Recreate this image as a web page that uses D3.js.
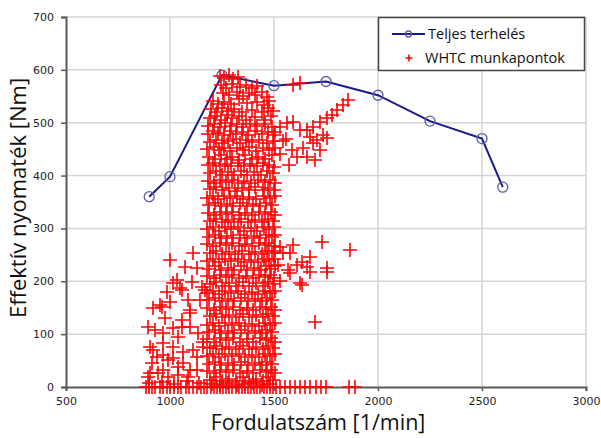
<!DOCTYPE html>
<html>
<head>
<meta charset="utf-8">
<script src="https://cdn.jsdelivr.net/npm/d3@7"></script>
<style>
  body { margin: 0; background: #fff; }
  #chart { width: 601px; height: 438px; }
  .tick text { font-family: "DejaVu Sans", Verdana, sans-serif; font-size: 11px; fill: #222; }
</style>
</head>
<body>
<div id="chart"></div>
<script>
// axis ticks
const rpmTicks = [500, 1000, 1500, 2000, 2500, 3000];
const torqueTicks = [0, 100, 200, 300, 400, 500, 600, 700];

// full load curve (Teljes terhelés)
const fullLoadRpm = [900, 1000, 1250, 1500, 1750, 2000, 2250, 2500, 2600];
const fullLoadTorque = [360, 398, 590, 570, 578, 552, 503, 470, 378];

// WHTC operating points in groups
const whtcIdleRpm = [885, 900, 915, 930, 950, 965, 985, 1000, 1020, 1040, 1055, 1075, 1090, 1110, 1130,
  1150, 1165, 1180, 1195, 1210, 1225, 1240, 1255, 1270, 1285, 1300, 1315, 1330, 1345, 1360, 1375,
  1390, 1405, 1420, 1435, 1450, 1465, 1480, 1495, 1510, 1530, 1555, 1575, 1600, 1625, 1650, 1675,
  1700, 1725, 1750, 1860, 1890];

const whtcLowSpeed = [
  [1000, 240], [1110, 253], [1072, 227], [1130, 225], [1034, 202], [985, 180], [1048, 187], [918, 149],
  [961, 151], [1087, 165], [1096, 146], [1154, 189], [894, 114], [928, 108], [966, 102], [1014, 112],
  [1058, 114], [1096, 114], [904, 76], [966, 83], [1014, 76], [1063, 66], [990, 51], [937, 57],
  [904, 26], [966, 32], [1038, 38], [1096, 32], [1130, 57], [1159, 76], [1135, 102], [952, 155],
  [1000, 161], [976, 131], [1058, 127], [1096, 140], [1058, 183], [1014, 197], [1106, 199], [1038, 95],
  [918, 70], [966, 61], [913, 45], [1014, 55], [1063, 45], [1111, 70], [894, 19], [942, 26],
  [990, 19], [1038, 23], [1087, 19], [1130, 32], [1159, 85], [1145, 165], [1168, 183], [900, 8],
  [960, 10], [1020, 6], [1080, 12], [1140, 8]
];

const whtcCore = [
  [1240, 588], [1262, 584], [1285, 590], [1305, 582], [1325, 586],
  [1245, 572], [1270, 566], [1300, 574], [1335, 568], [1365, 572], [1395, 566], [1420, 570],
  [1255, 556], [1285, 552], [1320, 558], [1350, 550], [1380, 556], [1410, 552], [1440, 558], [1465, 548],
  [1205, 542], [1230, 536], [1260, 540], [1295, 536], [1330, 544], [1370, 538], [1420, 540], [1450, 534], [1478, 542],
  [1195, 526], [1225, 520], [1250, 528], [1280, 522], [1310, 526], [1345, 520], [1395, 524], [1440, 520], [1470, 528], [1495, 522],
  [1190, 508], [1215, 512], [1245, 506], [1275, 514], [1300, 508], [1330, 512], [1365, 506], [1410, 510], [1450, 506], [1485, 512],
  [1185, 494], [1210, 498], [1240, 492], [1265, 500], [1295, 494], [1320, 498], [1350, 492], [1385, 498], [1420, 494], [1455, 498], [1490, 492],
  [1183, 478], [1205, 484], [1230, 480], [1260, 476], [1290, 484], [1315, 478], [1345, 482], [1375, 476], [1410, 484], [1440, 478], [1470, 482], [1500, 476],
  [1190, 464], [1220, 468], [1250, 462], [1280, 466], [1305, 470], [1335, 462], [1365, 468], [1395, 464], [1430, 468], [1465, 462], [1495, 466],
  [1180, 450], [1210, 454], [1235, 448], [1262, 452], [1290, 446], [1320, 452], [1350, 448], [1380, 454], [1415, 446], [1445, 452], [1478, 448], [1505, 452],
  [1188, 436], [1215, 432], [1245, 438], [1272, 432], [1300, 436], [1330, 430], [1360, 438], [1392, 432], [1425, 436], [1458, 432], [1490, 438],
  [1182, 420], [1208, 424], [1238, 418], [1265, 422], [1295, 418], [1325, 424], [1355, 418], [1385, 422], [1418, 418], [1448, 424], [1475, 420], [1500, 416],
  [1190, 404], [1220, 408], [1250, 402], [1280, 406], [1310, 402], [1340, 408], [1370, 402], [1405, 406], [1438, 402], [1468, 408], [1495, 404],
  [1185, 390], [1212, 386], [1240, 392], [1268, 388], [1298, 392], [1328, 386], [1358, 390], [1390, 386], [1425, 392], [1455, 388], [1482, 392], [1503, 386],
  [1192, 374], [1222, 378], [1252, 372], [1282, 376], [1312, 370], [1345, 376], [1378, 372], [1410, 378], [1445, 372], [1472, 376], [1498, 372],
  [1180, 358], [1205, 362], [1232, 356], [1260, 362], [1290, 358], [1320, 362], [1350, 356], [1382, 360], [1415, 356], [1450, 362], [1480, 358], [1505, 362],
  [1188, 344], [1218, 348], [1246, 342], [1275, 346], [1305, 342], [1335, 348], [1368, 342], [1400, 346], [1435, 342], [1462, 348], [1490, 344],
  [1183, 330], [1210, 326], [1240, 332], [1270, 328], [1300, 332], [1330, 326], [1362, 330], [1395, 326], [1428, 332], [1458, 328], [1485, 332], [1504, 326],
  [1190, 314], [1220, 318], [1250, 312], [1280, 316], [1310, 312], [1342, 318], [1375, 312], [1410, 316], [1442, 312], [1470, 318], [1497, 314],
  [1178, 298], [1205, 302], [1235, 296], [1265, 302], [1295, 298], [1325, 302], [1355, 296], [1388, 300], [1420, 296], [1452, 302], [1478, 298], [1502, 302],
  [1186, 284], [1215, 288], [1245, 282], [1275, 286], [1305, 282], [1338, 288], [1370, 282], [1402, 286], [1435, 282], [1462, 288], [1488, 284], [1505, 288],
  [1180, 270], [1208, 266], [1238, 272], [1268, 268], [1298, 272], [1330, 266], [1362, 270], [1395, 266], [1428, 272], [1455, 268], [1478, 272], [1498, 266],
  [1190, 254], [1220, 258], [1250, 252], [1282, 256], [1312, 252], [1345, 258], [1378, 252], [1410, 256], [1442, 252], [1468, 258], [1490, 254], [1506, 258],
  [1178, 238], [1205, 242], [1235, 236], [1265, 242], [1295, 238], [1325, 242], [1358, 236], [1390, 240], [1422, 236], [1452, 242], [1475, 238], [1500, 242],
  [1186, 224], [1215, 228], [1245, 222], [1278, 226], [1308, 222], [1340, 228], [1372, 222], [1405, 226], [1438, 222], [1462, 228], [1485, 224], [1505, 228],
  [1180, 210], [1210, 206], [1240, 212], [1270, 208], [1300, 212], [1332, 206], [1365, 210], [1398, 206], [1430, 212], [1458, 208], [1482, 212], [1502, 206],
  [1190, 194], [1222, 198], [1252, 192], [1285, 196], [1318, 192], [1350, 198], [1382, 192], [1415, 196], [1448, 192], [1472, 198], [1495, 194],
  [1178, 178], [1205, 182], [1235, 176], [1265, 182], [1295, 178], [1328, 182], [1360, 176], [1392, 180], [1425, 176], [1455, 182], [1480, 178], [1505, 182],
  [1186, 164], [1215, 168], [1248, 162], [1278, 166], [1310, 162], [1342, 168], [1375, 162], [1408, 166], [1440, 162], [1465, 168], [1490, 164],
  [1180, 150], [1210, 146], [1240, 152], [1270, 148], [1302, 152], [1335, 146], [1368, 150], [1400, 146], [1432, 152], [1460, 148], [1485, 152], [1506, 146],
  [1190, 134], [1220, 138], [1252, 132], [1285, 136], [1318, 132], [1350, 138], [1382, 132], [1415, 136], [1448, 132], [1472, 138], [1497, 134],
  [1178, 118], [1205, 122], [1235, 116], [1265, 122], [1298, 118], [1330, 122], [1362, 116], [1395, 120], [1428, 116], [1458, 122], [1482, 118], [1504, 122],
  [1186, 104], [1215, 108], [1245, 102], [1278, 106], [1310, 102], [1342, 108], [1375, 102], [1408, 106], [1440, 102], [1465, 108], [1490, 104],
  [1180, 90], [1210, 86], [1240, 92], [1270, 88], [1302, 92], [1335, 86], [1368, 90], [1400, 86], [1432, 92], [1460, 88], [1485, 92], [1506, 86],
  [1190, 74], [1220, 78], [1252, 72], [1285, 76], [1318, 72], [1350, 78], [1382, 72], [1415, 76], [1448, 72], [1472, 78], [1497, 74],
  [1178, 58], [1205, 62], [1235, 56], [1265, 62], [1298, 58], [1330, 62], [1362, 56], [1395, 60], [1428, 56], [1458, 62], [1482, 58], [1504, 62],
  [1186, 44], [1215, 48], [1245, 42], [1278, 46], [1310, 42], [1342, 48], [1375, 42], [1408, 46], [1440, 42], [1465, 48], [1490, 44],
  [1180, 30], [1210, 26], [1240, 32], [1270, 28], [1302, 32], [1335, 26], [1368, 30], [1400, 26], [1432, 32], [1460, 28], [1485, 32], [1506, 26],
  [1190, 14], [1220, 18], [1252, 12], [1285, 16], [1318, 12], [1350, 18], [1382, 12], [1415, 16], [1448, 12], [1472, 18], [1497, 14],
  [1200, 6], [1240, 4], [1280, 8], [1320, 4], [1360, 6], [1400, 8], [1440, 4], [1480, 6]
];

const whtcBranch = [
  [1529, 492], [1562, 499], [1591, 501], [1625, 486], [1505, 482], [1659, 486], [1688, 492], [1721, 501],
  [1755, 509], [1779, 515], [1803, 524], [1832, 533], [1856, 543], [1755, 471], [1707, 467], [1673, 473],
  [1721, 448], [1659, 435], [1611, 435], [1736, 477], [1688, 462], [1640, 452], [1587, 448], [1697, 429],
  [1591, 571], [1625, 575], [1545, 465], [1570, 420], [1530, 440], [1560, 470]
];

const whtcMidRight = [
  [1591, 269], [1729, 275], [1865, 259], [1543, 253], [1673, 246], [1755, 225], [1635, 193], [1567, 221],
  [1697, 123], [1611, 231], [1659, 227], [1529, 265], [1577, 253], [1635, 236], [1625, 197], [1577, 216],
  [1673, 218], [1755, 218], [1520, 230], [1530, 200]
];

const margin = { top: 17, right: 15, bottom: 51, left: 66 };
const width = 601, height = 438;

var svg = d3.select('#chart').append('svg')
  .attr('width', width)
  .attr('height', height);

var x = d3.scaleLinear().domain([500, 3000]).range([margin.left, width - margin.right]);
var y = d3.scaleLinear().domain([0, 700]).range([height - margin.bottom, margin.top]);

// grid
svg.append('g').selectAll('line.h')
  .data(torqueTicks.slice(1))
  .enter().append('line')
  .attr('x1', x(500)).attr('x2', x(3000))
  .attr('y1', d => y(d)).attr('y2', d => y(d))
  .attr('stroke', '#d4d4d4').attr('stroke-width', 1.5);

svg.append('g').selectAll('line.v')
  .data(rpmTicks.slice(1))
  .enter().append('line')
  .attr('x1', d => x(d)).attr('x2', d => x(d))
  .attr('y1', y(0)).attr('y2', y(700))
  .attr('stroke', '#d4d4d4').attr('stroke-width', 1.5);

// axes
var xAxis = svg.append('g')
  .attr('transform', `translate(0,${y(0)})`)
  .call(d3.axisBottom(x).tickValues(rpmTicks).tickSize(4).tickPadding(6).tickFormat(d3.format('d')));
var yAxis = svg.append('g')
  .attr('transform', `translate(${x(500)},0)`)
  .call(d3.axisLeft(y).tickValues(torqueTicks).tickSize(5).tickPadding(7));
[xAxis, yAxis].forEach(function(a) {
  a.select('.domain').attr('stroke', '#5a5a5a').attr('stroke-width', 2);
  a.selectAll('.tick line').attr('stroke', '#5a5a5a').attr('stroke-width', 1.5);
});

// full load line
var fullLoad = fullLoadRpm.map((r, i) => [r, fullLoadTorque[i]]);
svg.append('path')
  .datum(fullLoad)
  .attr('fill', 'none')
  .attr('stroke', '#1a1a8a')
  .attr('stroke-width', 2)
  .attr('d', d3.line().x(d => x(d[0])).y(d => y(d[1])));

svg.append('g').selectAll('circle')
  .data(fullLoad)
  .enter().append('circle')
  .attr('cx', d => x(d[0]))
  .attr('cy', d => y(d[1]))
  .attr('r', 5)
  .attr('fill', 'none')
  .attr('stroke', '#5c5cb0')
  .attr('stroke-width', 1.3);

// WHTC points (thin lines lose their colour, so a bit wider than 1px)
var whtc = whtcIdleRpm.map(r => [r, 0])
  .concat(whtcLowSpeed, whtcCore, whtcBranch, whtcMidRight);

svg.append('g').selectAll('path')
  .data(whtc)
  .enter().append('path')
  .attr('transform', d => `translate(${Math.round(x(d[0]))},${Math.round(y(d[1]))})`)
  .attr('d', 'M-7,0H7M0,-7V7')
  .attr('stroke', '#ff0000')
  .attr('stroke-width', 1.6);

// axis titles
svg.append('text')
  .attr('x', 318).attr('y', 430)
  .attr('text-anchor', 'middle')
  .style('font-family', '"Open Sans", sans-serif')
  .style('font-size', '21.5px')
  .attr('fill', '#111')
  .text('Fordulatszám [1/min]');

svg.append('text')
  .attr('transform', 'translate(26,198)rotate(-90)')
  .attr('text-anchor', 'middle')
  .style('font-family', '"Open Sans", sans-serif')
  .style('font-size', '22px')
  .attr('fill', '#111')
  .text('Effektív nyomaték [Nm]');

// legend
var legend = svg.append('g');
legend.append('rect')
  .attr('x', 378.5).attr('y', 17.5)
  .attr('width', 206).attr('height', 53)
  .attr('fill', '#fff')
  .attr('stroke', '#444').attr('stroke-width', 1.5);
legend.append('line')
  .attr('x1', 392).attr('x2', 425).attr('y1', 34).attr('y2', 34)
  .attr('stroke', '#1a1a8a').attr('stroke-width', 2);
legend.append('circle')
  .attr('cx', 408.5).attr('cy', 34).attr('r', 3)
  .attr('fill', 'none').attr('stroke', '#5c5cb0').attr('stroke-width', 1.3);
legend.append('path')
  .attr('transform', 'translate(409,58)')
  .attr('d', 'M-3.5,0H3.5M0,-3.5V3.5')
  .attr('stroke', '#ff0000').attr('stroke-width', 1.6);
legend.append('text')
  .attr('x', 428).attr('y', 39)
  .style('font-family', '"Open Sans", sans-serif').style('font-size', '14.5px')
  .attr('fill', '#111')
  .text('Teljes terhelés');
legend.append('text')
  .attr('x', 425).attr('y', 63)
  .style('font-family', '"Open Sans", sans-serif').style('font-size', '14.5px')
  .attr('fill', '#111')
  .text('WHTC munkapontok');
</script>
</body>
</html>
